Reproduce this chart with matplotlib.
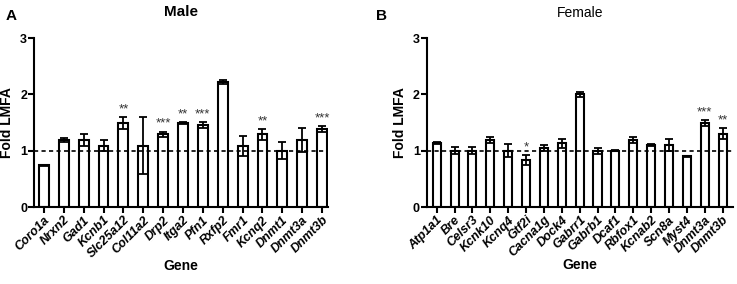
import matplotlib
matplotlib.use('Agg')
import matplotlib.pyplot as plt

plt.rcParams['font.family'] = ['Liberation Sans', 'DejaVu Sans']

male_genes = ['Coro1a', 'Nrxn2', 'Gad1', 'Kcnb1', 'Slc25a12', 'Col11a2', 'Drp2', 'Itga2',
              'Pfn1', 'Rxfp2', 'Fmr1', 'Kcnq2', 'Dnmt1', 'Dnmt3a', 'Dnmt3b']
male_vals = [0.74, 1.19, 1.19, 1.09, 1.49, 1.09, 1.29, 1.49, 1.46, 2.22, 1.09, 1.29, 1.0, 1.19, 1.39]
male_err = [0.01, 0.04, 0.11, 0.10, 0.10, 0.51, 0.05, 0.02, 0.05, 0.03, 0.18, 0.10, 0.15, 0.21, 0.05]
male_sig = ['', '', '', '', '**', '', '***', '**', '***', '', '', '**', '', '', '***']

female_genes = ['Atp1a1', 'Bre', 'Celsr3', 'Kcnk10', 'Kcnq4', 'Gtf2i', 'Cacna1g', 'Dock4', 'Gabrr1',
                'Gabrb1', 'Dcaf1', 'Rbfox1', 'Kcnab2', 'Scn8a', 'Myst4', 'Dnmt3a', 'Dnmt3b']
female_vals = [1.14, 1.0, 1.0, 1.19, 1.0, 0.83, 1.05, 1.13, 2.0, 1.0, 1.0, 1.19, 1.1, 1.1, 0.9, 1.49, 1.3]
female_err = [0.02, 0.06, 0.06, 0.06, 0.12, 0.09, 0.05, 0.08, 0.04, 0.05, 0.005, 0.06, 0.02, 0.1, 0.01, 0.05, 0.1]
female_sig = ['', '', '', '', '', '*', '', '', '', '', '', '', '', '', '', '***', '**']


def panel(ax, genes, vals, err, sig, width, xmin, xmax):
    x = list(range(len(genes)))
    ax.bar(x, vals, width=width, color='white', edgecolor='black', linewidth=1.5, zorder=2)
    ax.errorbar(x, vals, yerr=err, fmt='none', ecolor='black', elinewidth=1.3,
                capsize=3, capthick=1.3, zorder=3)
    ax.axhline(1, color='black', linestyle=(0, (2.5, 2)), linewidth=1.2, zorder=4)
    for xi, v, e, s in zip(x, vals, err, sig):
        if s:
            ax.text(xi, v + e + 0.03, s, ha='center', va='bottom', fontsize=9.5, color='#333333')
    ax.set_xlim(xmin, xmax)
    ax.set_ylim(0, 3)
    ax.set_yticks([0, 1, 2, 3])
    ax.set_xticks(x)
    ax.set_xticklabels(genes, rotation=45, ha='right', rotation_mode='anchor',
                       fontsize=9, fontweight='bold', fontstyle='italic')
    for lab in ax.get_yticklabels():
        lab.set_fontweight('bold')
        lab.set_fontsize(9)
    ax.spines['top'].set_visible(False)
    ax.spines['right'].set_visible(False)
    ax.spines['left'].set_linewidth(1.5)
    ax.spines['bottom'].set_linewidth(1.5)
    ax.tick_params(axis='both', width=1.5, length=4, direction='out', pad=1)
    ax.set_ylabel('Fold LMFA', fontsize=10, fontweight='bold', labelpad=4)
    ax.set_xlabel('Gene', fontsize=10, fontweight='bold', labelpad=-1)


fig = plt.figure(figsize=(7.37, 2.84), dpi=100)
ax1 = fig.add_axes([0.0461, 0.271, 0.399, 0.595])
ax2 = fig.add_axes([0.579, 0.271, 0.415, 0.595])

panel(ax1, male_genes, male_vals, male_err, male_sig, 0.5, -0.5, 14.3)
panel(ax2, female_genes, female_vals, female_err, female_sig, 0.45, -0.56, 16.56)

ax1.set_title('Male', fontsize=11, fontweight='bold', pad=16)
ax2.set_title('Female', fontsize=10, pad=15)
fig.text(0.008, 0.97, 'A', fontsize=11, fontweight='bold', va='top')
fig.text(0.510, 0.97, 'B', fontsize=11, fontweight='bold', va='top')

plt.savefig('out.png', dpi=100)
